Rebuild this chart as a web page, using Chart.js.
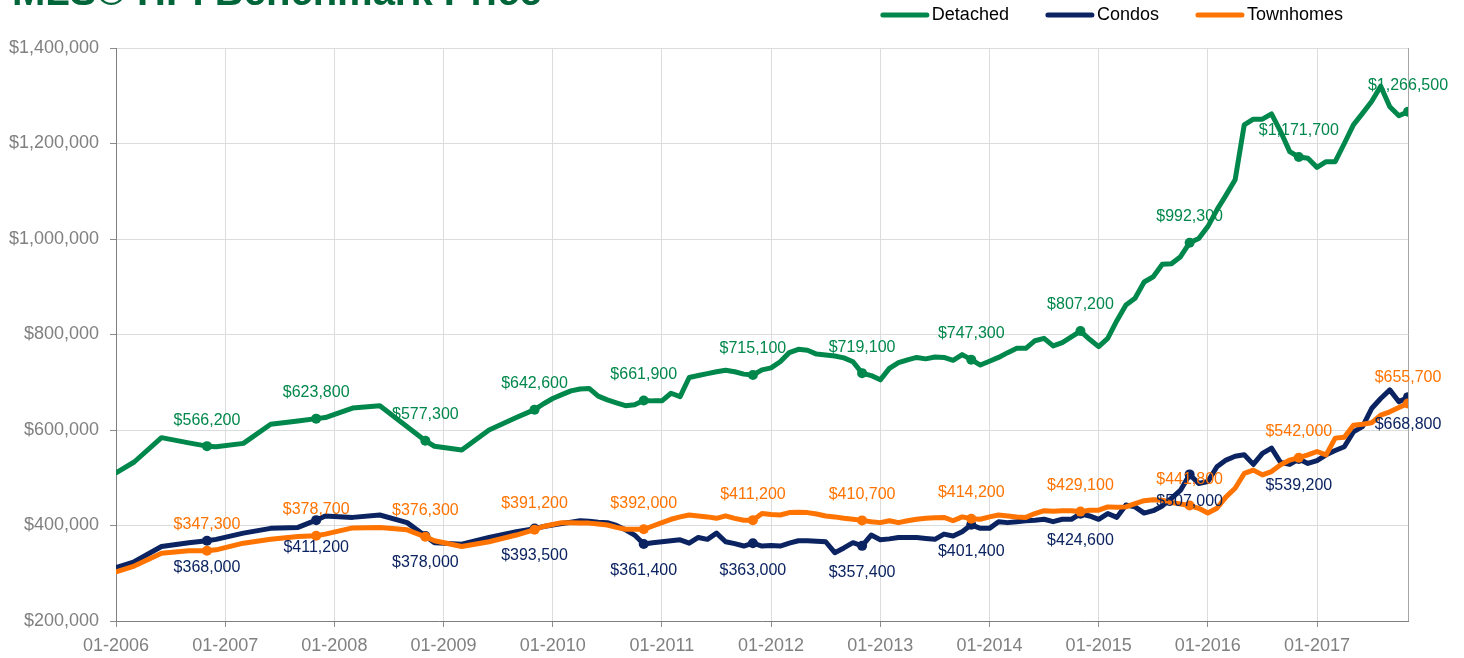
<!DOCTYPE html>
<html>
<head>
<meta charset="utf-8">
<script src="https://cdn.jsdelivr.net/npm/chart.js@4"></script>
<style>
  body { margin: 0; background: #fff; }
  canvas { display: block; }
</style>
</head>
<body>
<canvas id="hpiChart" width="1464" height="658"></canvas>
<script>
// MLS HPI benchmark price, monthly index counted from 01-2006
// (early years only have a few points per year)

const months = [
  0, 2, 5, 8, 10, 11, 14, 17, 20, 22, 23, 26, 29, 32, 34, 35, 38, 41, 44, 46,
  47, 48, 49, 50, 51, 52, 53, 54, 55, 56, 57, 58,
  59, 60, 61, 62, 63, 64, 65, 66, 67, 68, 69, 70,
  71, 72, 73, 74, 75, 76, 77, 78, 79, 80, 81, 82,
  83, 84, 85, 86, 87, 88, 89, 90, 91, 92, 93, 94,
  95, 96, 97, 98, 99, 100, 101, 102, 103, 104, 105, 106,
  107, 108, 109, 110, 111, 112, 113, 114, 115, 116, 117, 118,
  119, 120, 121, 122, 123, 124, 125, 126, 127, 128, 129, 130,
  131, 132, 133, 134, 135, 136, 137, 138, 139, 140, 141, 142
]

const detached = [
  510000, 533000, 584000, 573000, 566200, 565000, 572000, 612000, 619000, 623800, 626000, 646000, 651000, 607000, 577300, 566000, 558000, 600000, 626000, 642600,
  655000, 666000, 674000, 682000, 686000, 687000, 671000, 663000, 657000, 651000, 653000, 661900,
  661000, 661000, 677000, 670000, 710000, 714000, 718000, 722000, 725000, 722000, 717000, 715100,
  726000, 730000, 743000, 762000, 769000, 767000, 759000, 757000, 755000, 751000, 743000, 719100,
  714000, 705000, 729000, 741000, 747000, 752000, 749000, 753000, 752000, 746000, 758000, 747300,
  736000, 744000, 752000, 762000, 771000, 771000, 787000, 792000, 776000, 783000, 795000, 807200,
  790000, 774500, 792000, 829000, 862000, 876000, 910000, 921000, 947000, 948000, 963000, 992300,
  1001000, 1026000, 1061000, 1092000, 1124000, 1239000, 1251000, 1251000, 1262000, 1225000, 1183000, 1171700,
  1169000, 1150000, 1162000, 1162000, 1200000, 1239000, 1263000, 1288000, 1320000, 1277000, 1258000, 1266500
]

const condos = [
  312000, 324000, 356000, 364000, 368000, 371000, 384000, 394000, 396000, 411200, 420000, 417000, 422000, 406000, 378000, 364000, 361000, 375000, 387000, 393500,
  398000, 401000, 404000, 407000, 410000, 409000, 407000, 406000, 400000, 391000, 380000, 361400,
  364000, 366000, 368000, 370000, 363000, 375000, 371000, 384000, 366000, 362000, 357000, 363000,
  357000, 358000, 357000, 363000, 368000, 368000, 367000, 366000, 343000, 353000, 364000, 357400,
  380000, 370000, 372000, 375000, 375000, 375000, 373000, 371000, 382000, 378000, 387000, 401400,
  394000, 394000, 408000, 406000, 408000, 410000, 411000, 413000, 408000, 413000, 413000, 424600,
  420000, 413000, 425000, 417000, 443000, 439000, 426000, 431000, 441000, 457000, 474000, 507000,
  488000, 492000, 523000, 537000, 545000, 548000, 528000, 551000, 562000, 532000, 528000, 539200,
  530000, 536000, 548000, 557000, 565000, 596000, 607000, 645000, 666000, 684000, 659000, 668800
]

const townhomes = [
  303000, 315000, 342000, 347000, 347300, 349000, 363000, 371000, 377000, 378700, 382000, 395000, 396000, 391000, 376300, 368000, 356000, 366000, 380000, 391200,
  398000, 402000, 406000, 406000, 405000, 405000, 403000, 401000, 396000, 392000, 392000, 392000,
  399000, 406000, 413000, 418000, 422000, 420000, 418000, 415000, 420000, 415000, 411000, 411200,
  425000, 423000, 422000, 427000, 428000, 427000, 424000, 420000, 418000, 415000, 413000, 410700,
  408000, 406000, 410000, 406000, 410000, 413000, 415000, 416000, 417000, 410000, 418000, 414200,
  413000, 418000, 422000, 420000, 418000, 417000, 425000, 431000, 430000, 431000, 431000, 429100,
  432000, 432000, 439000, 438000, 439000, 446000, 452000, 454000, 453000, 448000, 445000, 441800,
  436000, 426000, 436000, 460000, 478000, 509000, 516000, 506000, 513000, 527000, 537000, 542000,
  548000, 555000, 548000, 583000, 585000, 610000, 612000, 615000, 631000, 638000, 647000, 655700
]

// November of every year gets a marker and a value label
const labelMonths = [10, 22, 34, 46, 58, 70, 82, 94, 106, 118, 130, 142]

const yTicks = [200000, 400000, 600000, 800000, 1000000, 1200000, 1400000]
const startYear = 2006

const chartTitle = 'MLS® HPI Benchmark Price'
const FONT = '"Liberation Sans", Arial, Helvetica, sans-serif'

const GREEN = '#00874b'
const NAVY = '#0b2360'
const ORANGE = '#ff7300'

function toPoints(values){
  return values.map((v, i) => ({x: months[i], y: v}))
}

function money(v){
  return '$' + v.toLocaleString('en-US')
}

// value labels above / below the November points
const valueLabels = {
  id: 'valueLabels',
  afterDatasetsDraw(chart){
    const ctx = chart.ctx
    ctx.save()
    ctx.font = '16px ' + FONT
    ctx.textAlign = 'center'
    ctx.textBaseline = 'middle'
    chart.data.datasets.forEach((ds, di) => {
      const meta = chart.getDatasetMeta(di)
      meta.data.forEach((pt, i) => {
        const raw = ds.data[i]
        if (!labelMonths.includes(raw.x)) return
        ctx.fillStyle = ds.borderColor
        ctx.fillText(money(raw.y), pt.x, pt.y + ds.labelOffset)
      })
    })
    ctx.restore()
  }
}

// right frame line, title (cut at the top edge) and the legend
const frameAndLegend = {
  id: 'frameAndLegend',
  beforeDatasetsDraw(chart){
    const {ctx, chartArea} = chart
    ctx.save()
    ctx.strokeStyle = '#a6a6a6'
    ctx.lineWidth = 1
    ctx.beginPath()
    ctx.moveTo(chartArea.right + 0.5, chartArea.top)
    ctx.lineTo(chartArea.right + 0.5, chartArea.bottom)
    ctx.stroke()
    ctx.restore()
  },
  afterDraw(chart){
    const ctx = chart.ctx
    ctx.save()

    ctx.font = 'bold 40px ' + FONT
    ctx.fillStyle = '#00663a'
    ctx.textAlign = 'left'
    ctx.textBaseline = 'alphabetic'
    ctx.fillText(chartTitle, 12, 5)

    ctx.font = '18px ' + FONT
    ctx.textBaseline = 'middle'
    const lineLen = 48
    const gap = 3
    const itemGap = 37
    let x = 1343
    const y = 15
    const items = chart.data.datasets.slice().reverse()
    items.forEach(ds => {
      const w = ctx.measureText(ds.label).width
      const start = x - w - gap - lineLen
      ctx.strokeStyle = ds.borderColor
      ctx.lineWidth = 5
      ctx.lineCap = 'round'
      ctx.beginPath()
      ctx.moveTo(start + 2, y)
      ctx.lineTo(start + lineLen - 2, y)
      ctx.stroke()
      ctx.fillStyle = '#000'
      ctx.fillText(ds.label, start + lineLen + gap, y)
      x = start - itemGap
    })
    ctx.restore()
  }
}

const pointSize = c => (c.raw && labelMonths.includes(c.raw.x)) ? 5 : 0

function line(label, values, color, order, offset){
  return {
    label: label,
    data: toPoints(values),
    borderColor: color,
    backgroundColor: color,
    borderWidth: 5,
    borderJoinStyle: 'round',
    borderCapStyle: 'round',
    tension: 0,
    pointRadius: pointSize,
    pointHoverRadius: pointSize,
    pointBorderWidth: 0,
    order: order,
    labelOffset: offset
  }
}

const ctx = document.getElementById('hpiChart').getContext('2d')

const chart = new Chart(ctx, {
  type: 'line',
  data: {
    datasets: [
      line('Detached', detached, GREEN, 2, -26),
      line('Condos', condos, NAVY, 1, 27),
      line('Townhomes', townhomes, ORANGE, 0, -26)
    ]
  },
  options: {
    responsive: false,
    animation: false,
    devicePixelRatio: 1,
    layout: {
      padding: {top: 48, right: 56, bottom: 0, left: 0}
    },
    plugins: {
      legend: {display: false},
      title: {display: false},
      tooltip: {enabled: false}
    },
    scales: {
      x: {
        type: 'linear',
        min: 0,
        max: 142,
        afterFit: s => { s.height = 37 },
        afterBuildTicks: s => {
          s.ticks = yearStarts().map(v => ({value: v}))
        },
        ticks: {
          color: '#808080',
          font: {family: FONT, size: 18},
          padding: 8,
          maxRotation: 0,
          autoSkip: false,
          callback: v => '01-' + (startYear + v / 12)
        },
        grid: {color: '#dcdcdc', tickColor: '#8c8c8c', tickLength: 6},
        border: {color: '#7f7f7f'}
      },
      y: {
        min: 200000,
        max: 1400000,
        afterFit: s => { s.width = 116 },
        afterBuildTicks: s => {
          s.ticks = yTicks.map(v => ({value: v}))
        },
        ticks: {
          color: '#808080',
          font: {family: FONT, size: 18},
          padding: 11,
          callback: v => money(v)
        },
        grid: {color: '#dcdcdc', tickColor: '#8c8c8c', tickLength: 6},
        border: {color: '#7f7f7f'}
      }
    }
  },
  plugins: [valueLabels, frameAndLegend]
})

// January of each year on the x axis
function yearStarts(){
  const out = []
  for (let m = 0; m <= 132; m += 12) out.push(m)
  return out
}
</script>
</body>
</html>
